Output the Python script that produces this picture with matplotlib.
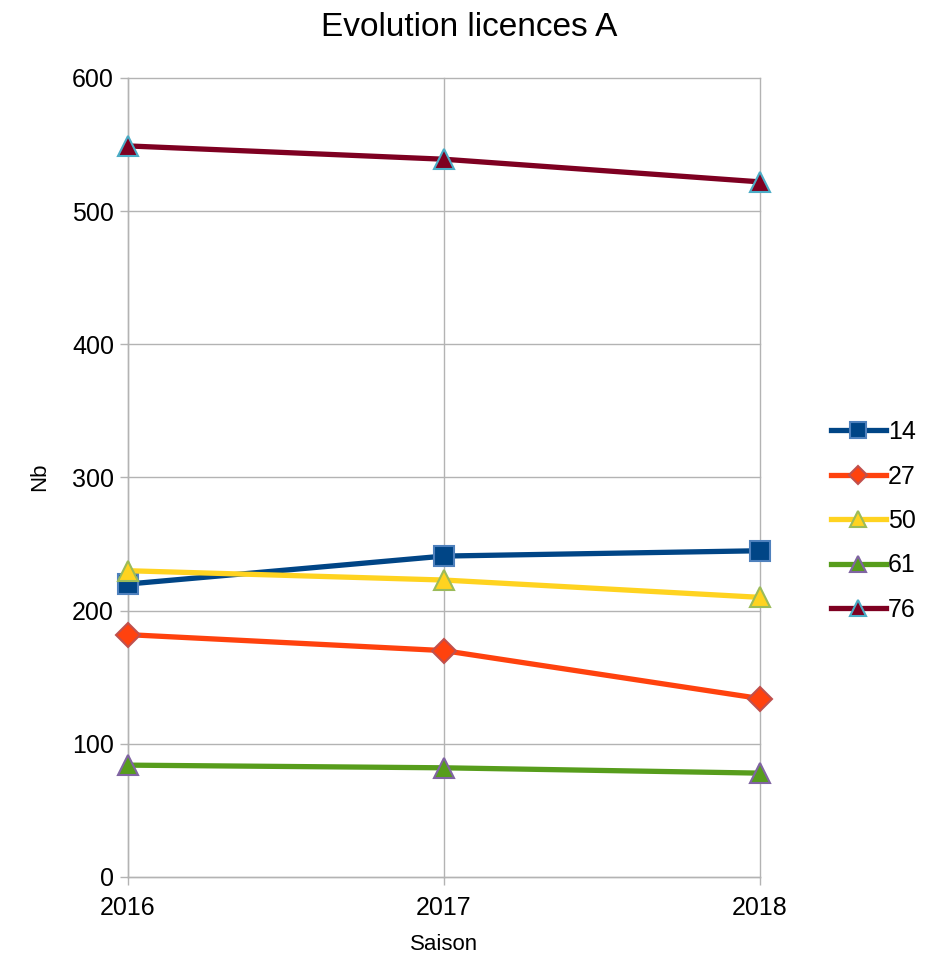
import matplotlib.pyplot as plt

plt.rcParams['font.family'] = ['Liberation Sans', 'DejaVu Sans']

saisons = [2016, 2017, 2018]
s14 = [220, 241, 245]
s27 = [182, 170, 134]
s50 = [230, 223, 210]
s61 = [84, 82, 78]
s76 = [549, 539, 522]

series = [
    ("14", s14, "#004586", "s", "#4f81bd", 14),
    ("27", s27, "#ff420e", "D", "#c0504d", 12),
    ("50", s50, "#ffd320", "^", "#9bbb59", 15),
    ("61", s61, "#579d1c", "^", "#8064a2", 15),
    ("76", s76, "#7e0021", "^", "#4bacc6", 15),
]

fig = plt.figure(figsize=(9.43, 9.56), dpi=100)
ax = fig.add_axes([128 / 943, 1 - 877 / 956, (760 - 128) / 943, (877 - 78) / 956])

for name, vals, col, mk, edge, ms in series:
    ax.plot(saisons, vals, color=col, lw=3.8, marker=mk, ms=ms,
            mfc=col, mec=edge, mew=1.5, label=name, clip_on=False, zorder=3)

ax.set_xlim(2016, 2018)
ax.set_ylim(0, 600)
ax.set_xticks(saisons)
ax.set_yticks(range(0, 601, 100))
ax.grid(True, color="#b3b3b3", lw=1.0)
for gl in ax.xaxis.get_gridlines() + ax.yaxis.get_gridlines():
    gl.set_clip_on(False)
ax.set_axisbelow(True)
for sp in ["top", "right"]:
    ax.spines[sp].set_visible(False)
for sp in ["left", "bottom"]:
    ax.spines[sp].set_color("#b3b3b3")
    ax.spines[sp].set_linewidth(1.0)
ax.tick_params(axis="both", labelsize=18, color="#b3b3b3", length=6, width=1.0)
ax.tick_params(axis="x", pad=8)
ax.tick_params(axis="y", pad=4)
fig.text(444 / 943, 1 - 945 / 956, "Saison", fontsize=16, ha="center", va="center")
fig.text(40 / 943, 1 - 477 / 956, "Nb", fontsize=16, ha="center", va="center",
         rotation=90)
fig.text(469 / 943, 1 - 27 / 956, "Evolution licences A", fontsize=24,
         ha="center", va="center")

ax.legend(loc="center left", bbox_to_anchor=(808 / 943, 1 - 521 / 956),
          bbox_transform=fig.transFigure, frameon=False, fontsize=18,
          handlelength=2.2, handletextpad=0.1, labelspacing=0.82,
          markerscale=0.8)

fig.savefig("out.png", dpi=100)
